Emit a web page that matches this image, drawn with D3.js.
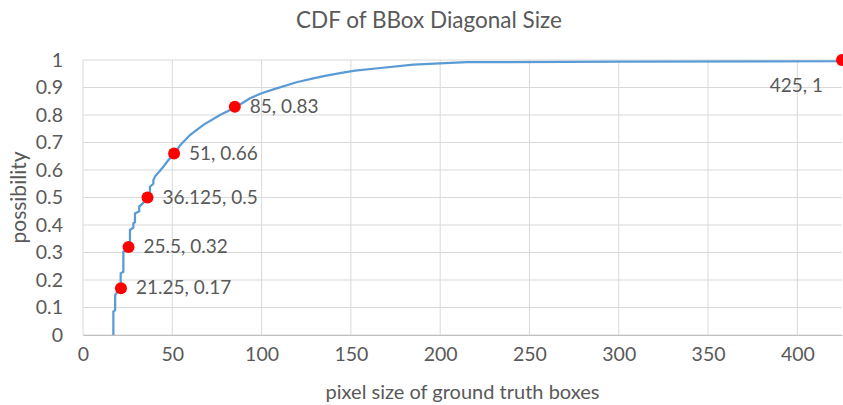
<!DOCTYPE html>
<html>
<head>
<meta charset="utf-8">
<script src="https://cdn.jsdelivr.net/npm/d3@7"></script>
<style>
body { margin: 0; background: #fff; }
text { font-family: Lato, "Liberation Sans", sans-serif; fill: #595959; }
</style>
</head>
<body>
<div id="chart"></div>
<script>
// CDF curve (x = pixel size, y = possibility)
var cdfX = [17, 17, 18, 18, 20.7, 21.1, 21.1, 22.6, 22.6, 25.4, 26.3, 26.3, 28.2, 28.2, 29.1, 29.1, 31.5, 31.5,
            36.1, 37.5, 37.5, 39.4, 39.4, 40.3, 45, 47.8, 50.6, 54.3, 59.9, 67.4, 76.7, 85.5, 93.5,
            100, 108.4, 119.6, 129, 135.5, 143.9, 152.3, 165.3, 184.9, 214.8, 300, 424, 425];
var cdfY = [0, 0.085, 0.09, 0.145, 0.17, 0.175, 0.224, 0.23, 0.303, 0.318, 0.33, 0.382, 0.39, 0.406, 0.41, 0.442, 0.45, 0.467,
            0.495, 0.51, 0.539, 0.55, 0.564, 0.576, 0.612, 0.636, 0.655, 0.689, 0.727, 0.764, 0.8, 0.828, 0.861,
            0.879, 0.897, 0.919, 0.933, 0.942, 0.952, 0.961, 0.97, 0.983, 0.992, 0.994, 0.996, 1];

// highlighted points
var markX = [21.25, 25.5, 36.125, 51, 85, 425];
var markY = [0.17, 0.32, 0.5, 0.66, 0.83, 1];
var markLabels = ["21.25, 0.17", "25.5, 0.32", "36.125, 0.5", "51, 0.66", "85, 0.83", "425, 1"];

var xTicks = [0, 50, 100, 150, 200, 250, 300, 350, 400];
var yTicks = [0, 0.1, 0.2, 0.3, 0.4, 0.5, 0.6, 0.7, 0.8, 0.9, 1];

var curve = cdfX.map(function (d, i) { return { x: d, y: cdfY[i] }; });
var marks = markX.map(function (d, i) { return { x: d, y: markY[i], label: markLabels[i] }; });

var W = 843, H = 405;
var margin = { top: 60, right: 1, bottom: 70, left: 83 };

var svg = d3.select("#chart")
  .append("svg")
  .attr("width", W)
  .attr("height", H);

var x = d3.scaleLinear()
  .domain([0, 425])
  .range([margin.left, W - margin.right]);
var y = d3.scaleLinear()
  .domain([0, 1])
  .range([H - margin.bottom, margin.top]);

// grid
svg.append("g")
  .selectAll("line.h").data(yTicks).enter()
  .append("line")
  .attr("x1", x(0)).attr("x2", x(425))
  .attr("y1", function (d) { return y(d); })
  .attr("y2", function (d) { return y(d); })
  .attr("stroke", "#d9d9d9").attr("stroke-width", 1);
svg.append("g")
  .selectAll("line.v").data(xTicks).enter()
  .append("line")
  .attr("x1", function (d) { return x(d); })
  .attr("x2", function (d) { return x(d); })
  .attr("y1", y(0)).attr("y2", y(1))
  .attr("stroke", "#d9d9d9").attr("stroke-width", 1);

// axes (labels only, Excel style)
var xAxis = svg.append("g")
  .attr("transform", "translate(0," + y(0) + ")")
  .call(d3.axisBottom(x).tickValues(xTicks).tickSize(0).tickPadding(12).tickFormat(d3.format("d")));
xAxis.select(".domain").attr("stroke", "#bfbfbf");
xAxis.selectAll("text").style("font-size", "19.5px").attr("fill", "#595959");

var yAxis = svg.append("g")
  .attr("transform", "translate(" + x(0) + ",0)")
  .call(d3.axisLeft(y).tickValues(yTicks).tickSize(0).tickPadding(20).tickFormat(function (d) { return d3.format("")(+d.toFixed(1)); }));
yAxis.select(".domain").remove();
yAxis.selectAll("text").style("font-size", "19.5px").attr("fill", "#595959");

// curve
svg.append("path")
  .datum(curve)
  .attr("fill", "none")
  .attr("stroke", "#5b9bd5")
  .attr("stroke-width", 2.25)
  .attr("d", d3.line().x(function (d) { return x(d.x); }).y(function (d) { return y(d.y); }));

// red markers
svg.selectAll("circle.m").data(marks).enter()
  .append("circle")
  .attr("cx", function (d) { return x(d.x); })
  .attr("cy", function (d) { return y(d.y); })
  .attr("r", 6)
  .attr("fill", "#ff0000");

svg.selectAll("text.lbl").data(marks).enter()
  .append("text")
  .attr("x", function (d, i) { return i == marks.length - 1 ? x(d.x) - 19 : x(d.x) + 15; })
  .attr("y", function (d, i) { return i == marks.length - 1 ? y(d.y) + 32 : y(d.y) + 6; })
  .attr("text-anchor", function (d, i) { return i == marks.length - 1 ? "end" : "start"; })
  .style("font-size", "19px")
  .text(function (d) { return d.label; });

// titles
svg.append("text")
  .attr("x", 429).attr("y", 28)
  .attr("text-anchor", "middle")
  .style("font-size", "22.5px")
  .text("CDF of BBox Diagonal Size");

svg.append("text")
  .attr("x", (x(0) + x(425)) / 2).attr("y", 399)
  .attr("text-anchor", "middle")
  .style("font-size", "20px")
  .text("pixel size of ground truth boxes");

svg.append("text")
  .attr("transform", "translate(26," + (y(0) + y(1)) / 2 + ")rotate(-90)")
  .attr("text-anchor", "middle")
  .style("font-size", "21px")
  .text("possibility");
</script>
</body>
</html>
